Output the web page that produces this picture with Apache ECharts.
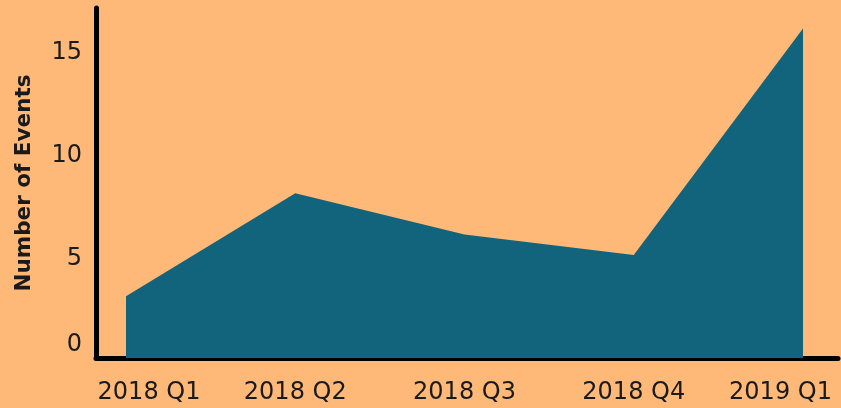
<!DOCTYPE html>
<html>
<head>
<meta charset="utf-8">
<script src="https://cdn.jsdelivr.net/npm/echarts@6/dist/echarts.min.js"></script>
<style>html,body{margin:0;padding:0;background:#FEB978;}#c{width:841px;height:408px;}</style>
</head>
<body>
<div id="c"></div>
<script>
const categories = ['2018 Q1', '2018 Q2', '2018 Q3', '2018 Q4', '2019 Q1'];
const events = [3, 8, 6, 5, 16];
const yTicks = [0, 5, 10, 15];
const yTitle = 'Number of Events';

const FONT = 'DejaVu Sans';
const FS = 24;
const TXT = '#1a1a1a';
const chart = echarts.init(document.getElementById('c'));
const last = categories.length - 1;
chart.setOption({
  backgroundColor: '#FEB978',
  animation: false,
  grid: [
    {left: 96, right: 3, top: 8, bottom: 50},
    {left: 126, right: 38, top: 8, bottom: 50}
  ],
  xAxis: [
    {gridIndex: 0, type: 'category', data: [''], axisLine: {lineStyle: {color: '#000', width: 5}},
     axisTick: {show: false}, axisLabel: {show: false}, splitLine: {show: false}},
    {gridIndex: 1, type: 'category', data: categories, boundaryGap: false,
     axisLine: {show: false}, axisTick: {show: false}, splitLine: {show: false},
     axisLabel: {interval: 0, margin: 23, color: TXT, fontFamily: FONT, fontSize: FS,
       formatter: (v, i) => i === 0 ? '{f|' + v + '}' : (i === last ? '{l|' + v + '}' : '{n|' + v + '}'),
       rich: {
         f: {fontFamily: FONT, fontSize: FS, color: TXT, padding: [0, 0, 0, 46]},
         l: {fontFamily: FONT, fontSize: FS, color: TXT, padding: [0, 45, 0, 0]},
         n: {fontFamily: FONT, fontSize: FS, color: TXT}
       }}}
  ],
  yAxis: [
    {gridIndex: 0, type: 'value', min: 0, max: 17, interval: 5,
     axisLine: {show: true, lineStyle: {color: '#000', width: 5}}, axisTick: {show: false},
     splitLine: {show: false},
     name: yTitle, nameLocation: 'middle', nameGap: 61,
     nameTextStyle: {fontFamily: FONT, fontWeight: 'bold', fontSize: 21.5, color: TXT},
     axisLabel: {showMaxLabel: false, margin: 14, color: TXT, fontFamily: FONT, fontSize: FS,
       formatter: v => yTicks.indexOf(v) < 0 ? '' : (v === 0 ? '{z|0}' : '{n|' + v + '}'),
       rich: {
         z: {fontFamily: FONT, fontSize: FS, color: TXT, padding: [0, 0, 26, 0]},
         n: {fontFamily: FONT, fontSize: FS, color: TXT, padding: [8, 0, 0, 0]}
       }}},
    {gridIndex: 1, type: 'value', min: 0, max: 17, show: false}
  ],
  series: [{
    type: 'line', xAxisIndex: 1, yAxisIndex: 1, data: events,
    showSymbol: false, lineStyle: {width: 0}, areaStyle: {color: '#11647B', opacity: 1}, z: 1
  }]
});
</script>
</body>
</html>
